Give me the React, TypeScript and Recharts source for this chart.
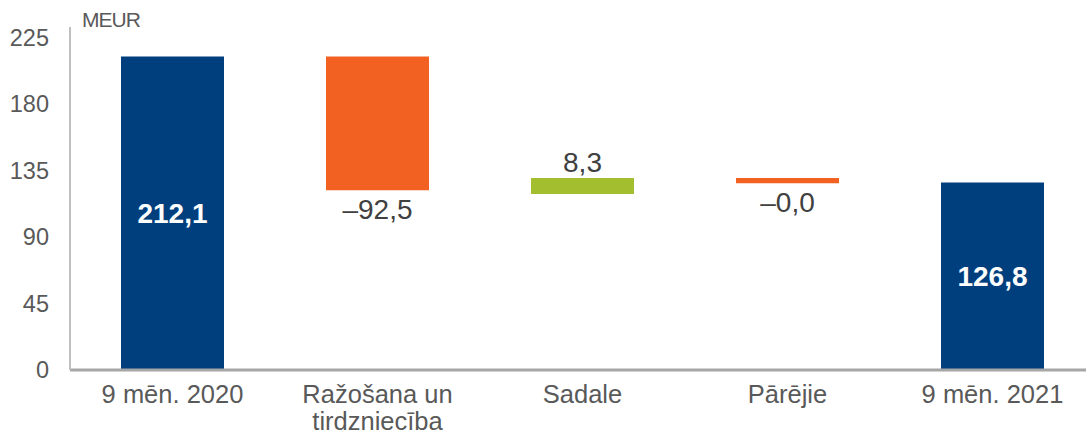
import { BarChart, Bar, XAxis, YAxis, Cell, LabelList } from "recharts"

// categories and values (MEUR)
const categories = ["9 mēn. 2020", "Ražošana un\ntirdzniecība", "Sadale", "Pārējie", "9 mēn. 2021"]
const barLow = [0, 121.5, 119, 126.3, 0]
const barHigh = [212.1, 212.1, 129.9, 129.9, 126.8]
const valueLabels = ["212,1", "–92,5", "8,3", "–0,0", "126,8"]
const kinds = ["total", "down", "up", "down", "total"]
const yTicks = [0, 45, 90, 135, 180, 225]

const colors: Record<string, string> = {
  total: "#003f7d",
  down: "#f26122",
  up: "#a3be2f",
}

const data = categories.map((name, i) => ({
  name,
  range: [barLow[i], barHigh[i]],
  label: valueLabels[i],
  kind: kinds[i],
}))

const FONT = "'Liberation Sans', Arial, sans-serif"

function CategoryTick(props: any) {
  const { x, y, payload } = props
  const lines = String(payload.value).split("\n")
  return (
    <text x={x} y={y} textAnchor="middle" fill="#595959" fontSize={25.5} fontFamily={FONT}>
      {lines.map((ln, i) => (
        <tspan key={i} x={x} dy={i === 0 ? 31 : 27}>
          {ln}
        </tspan>
      ))}
    </text>
  )
}

function ValueLabel(props: any) {
  const { x, y, width, height, index } = props
  const kind = kinds[index]
  const cx = x + width / 2
  if (kind === "total") {
    return (
      <text x={cx} y={y + height / 2} dy={10} textAnchor="middle" fill="#ffffff" fontSize={28} fontWeight="bold" fontFamily={FONT}>
        {valueLabels[index]}
      </text>
    )
  }
  const top = Math.min(y, y + height)
  const bottom = Math.max(y, y + height)
  if (kind === "up") {
    return (
      <text x={cx} y={top - 6} textAnchor="middle" fill="#404040" fontSize={28} fontFamily={FONT}>
        {valueLabels[index]}
      </text>
    )
  }
  return (
    <text x={cx} y={bottom + 29} textAnchor="middle" fill="#404040" fontSize={28} fontFamily={FONT}>
      {valueLabels[index]}
    </text>
  )
}

export default function App() {
  return (
    <div style={{ position: "absolute", left: 0, top: 0, width: 1086, height: 443, overflow: "hidden", background: "#fff" }}>
      <BarChart width={1095} height={443} data={data} margin={{ top: 27, right: 0, left: 0, bottom: 0 }} barCategoryGap={0}>
        <XAxis
          dataKey="name"
          axisLine={{ stroke: "#a6a6a6", strokeWidth: 3 }}
          tickLine={false}
          tick={<CategoryTick />}
          tickSize={0}
          interval={0}
          height={73}
        />
        <YAxis
          domain={[0, 232]}
          ticks={yTicks}
          axisLine={{ stroke: "#bfbfbf", strokeWidth: 2 }}
          tickLine={false}
          width={70}
          tick={{ fill: "#595959", fontSize: 23.5, fontFamily: FONT, dx: -13 }}
        />
        <Bar dataKey="range" barSize={103} isAnimationActive={false}>
          {data.map((d, i) => (
            <Cell key={`cell-${i}`} fill={colors[d.kind]} />
          ))}
          <LabelList dataKey="label" content={<ValueLabel />} />
        </Bar>
        <text x={82} y={27} fill="#595959" fontSize={21} fontFamily={FONT} letterSpacing={-1}>
          MEUR
        </text>
      </BarChart>
    </div>
  )
}
